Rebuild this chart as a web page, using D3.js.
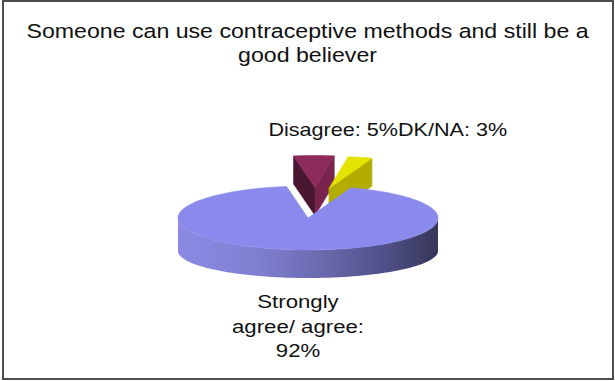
<!DOCTYPE html>
<html>
<head>
<meta charset="utf-8">
<script src="https://cdn.jsdelivr.net/npm/d3@7"></script>
<style>
  html, body { margin: 0; padding: 0; background: #fff; }
  svg { display: block; }
</style>
</head>
<body>
<svg id="chart" width="615" height="381"></svg>
<script>
// ---- data ----
const categories = ["Disagree", "DK/NA", "Strongly agree/ agree"];
const values = [5, 3, 92];
const exploded = [true, true, false];
const titleLines = ["Someone can use contraceptive methods and still be a", "good believer"];

// ---- palette (top face, face turned left, face turned right) ----
const topColors   = ["#8d2b5d", "#e3e300", "#8a8aec"];
const leftColors  = ["#4a1731", "#9c9800", "#6f6fc4"];
const rightColors = ["#78244f", "#b3ad00", "#4a4a80"];

const svg = d3.select("#chart");
const FONT = "Arial, 'Liberation Sans', sans-serif";
const STRETCH = 1.2;   // text is drawn slightly wide

// frame
svg.append("rect")
  .attr("x", 3).attr("y", 1).attr("width", 610).attr("height", 378)
  .attr("fill", "#fff").attr("stroke", "#4d4d4d").attr("stroke-width", 2);

function wideText(parent, x, y, str, size, anchor) {
  return parent.append("text")
    .attr("transform", `translate(${x},${y}) scale(${STRETCH},1)`)
    .attr("text-anchor", anchor)
    .attr("font-family", FONT)
    .attr("font-size", size)
    .attr("fill", "#111")
    .text(str);
}

// title
const titleG = svg.append("g");
titleLines.forEach((t, i) => wideText(titleG, 307.5, 38 + i * 23.5, t, 19.3, "middle"));

// ---- 3D pie geometry ----
const cx = 308, cy = 218, rx = 130, ry = 32;
const depth = 28;                 // thickness of the pulled-out wedges
const sideDrop = 33, ryBottom = 27; // lower rim of the main body
const explodeX = 56, explodeY = 30.5, explodeShift = 7.5;
const startAngle = -9.5 * Math.PI / 180;

const arcs = d3.pie().sort(null).value(d => d)
  .startAngle(startAngle).endAngle(startAngle + 2 * Math.PI)(values);

function offsetOf(a) {
  if (!exploded[a.index]) return [0, 0];
  const m = (a.startAngle + a.endAngle) / 2;
  return [explodeX * Math.sin(m) + explodeShift, -explodeY * Math.cos(m)];
}
function pt(theta, r, z, off) {
  return [cx + off[0] + rx * r * Math.sin(theta),
          cy + off[1] + z * depth - ry * r * Math.cos(theta)];
}
const angles = (a0, a1, n) => d3.range(n + 1).map(k => a0 + (a1 - a0) * k / n);
const line = d3.line();

const defs = svg.append("defs");
const grad = defs.append("linearGradient").attr("id", "rimShade")
  .attr("gradientUnits", "userSpaceOnUse")
  .attr("x1", cx - rx).attr("x2", cx + rx).attr("y1", 0).attr("y2", 0);
[[0, "#8a8ae4"], [0.3, "#8080d2"], [0.55, "#6a6aae"], [0.8, "#505088"], [1, "#363658"]]
  .forEach(([o, c]) => grad.append("stop").attr("offset", o).attr("stop-color", c));

const pieG = svg.append("g");

function face(points, color) {
  pieG.append("path").attr("d", line(points) + "Z")
    .attr("fill", color).attr("stroke", color).attr("stroke-width", 0.6)
    .attr("stroke-linejoin", "round");
}

// pulled-out wedges, farthest first
arcs.filter(a => exploded[a.index])
  .sort((p, q) => Math.cos((q.startAngle + q.endAngle) / 2) - Math.cos((p.startAngle + p.endAngle) / 2))
  .forEach(a => {
    const off = offsetOf(a), i = a.index;
    const a0 = a.startAngle, a1 = a.endAngle;
    if (Math.sin(a0) < 0) {
      face([pt(a0, 0, 0, off), pt(a0, 1, 0, off), pt(a0, 1, 1, off), pt(a0, 0, 1, off)], leftColors[i]);
    }
    if (Math.sin(a1) > 0) {
      face([pt(a1, 0, 0, off), pt(a1, 1, 0, off), pt(a1, 1, 1, off), pt(a1, 0, 1, off)], rightColors[i]);
    }
    face([pt(0, 0, 0, off), ...angles(a0, a1, 24).map(t => pt(t, 1, 0, off))], topColors[i]);
  });

// main body: front rim then top
arcs.filter(a => !exploded[a.index]).forEach(a => {
  const i = a.index;
  const lo = Math.max(a.startAngle, Math.PI / 2), hi = Math.min(a.endAngle, 3 * Math.PI / 2);
  if (hi > lo) {
    const upper = angles(lo, hi, 80).map(t => [cx + rx * Math.sin(t), cy - ry * Math.cos(t)]);
    const lower = angles(hi, lo, 80).map(t => [cx + rx * Math.sin(t), cy + sideDrop - ryBottom * Math.cos(t)]);
    pieG.append("path").attr("d", line(upper.concat(lower)) + "Z")
      .attr("fill", "url(#rimShade)");
  }
  face([[cx, cy], ...angles(a.startAngle, a.endAngle, 160).map(t => pt(t, 1, 0, [0, 0]))], topColors[i]);
});

// ---- labels ----
const labelText = i => `${categories[i]}: ${values[i]}%`;
const labG = svg.append("g");
wideText(labG, 398, 136, labelText(0), 18, "end");
wideText(labG, 398, 136, labelText(1), 18, "start");

// wrapped label under the pie
function wrapWords(str, maxW, size) {
  const probe = svg.append("text").attr("font-family", FONT).attr("font-size", size);
  const words = str.split(" ");
  const out = [];
  let cur = "";
  words.forEach(w => {
    const trial = cur ? cur + " " + w : w;
    probe.text(trial);
    if (cur && probe.node().getComputedTextLength() * STRETCH > maxW) { out.push(cur); cur = w; }
    else cur = trial;
  });
  if (cur) out.push(cur);
  probe.remove();
  return out;
}
wrapWords(labelText(2), 140, 18.5).forEach((l, k) => wideText(labG, 298, 308 + k * 24.5, l, 18.5, "middle"));
</script>
</body>
</html>
